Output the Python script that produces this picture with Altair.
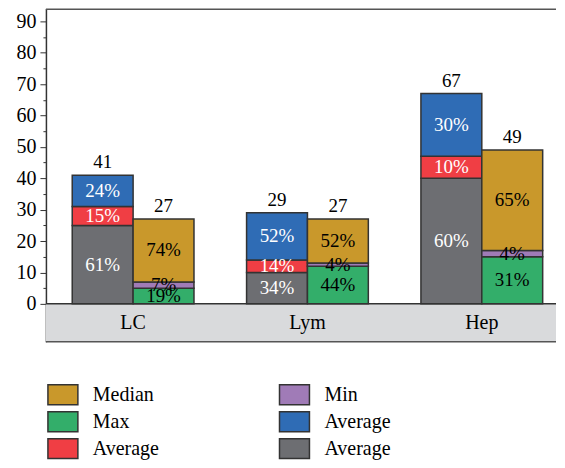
import altair as alt
import pandas as pd

categories = ["LC", "Lym", "Hep"]

# left bar (bottom -> top): gray Average, red Average, blue Average
gray_vals = [25, 10, 40]
red_vals = [6, 4, 7]
blue_vals = [10, 15, 20]
gray_pct = ["61%", "34%", "60%"]
red_pct = ["15%", "14%", "10%"]
blue_pct = ["24%", "52%", "30%"]

# right bar (bottom -> top): green Max, purple Min, gold Median
green_vals = [5, 12, 15]
purple_vals = [2, 1, 2]
gold_vals = [20, 14, 32]
green_pct = ["19%", "44%", "31%"]
purple_pct = ["7%", "4%", "4%"]
gold_pct = ["74%", "52%", "65%"]

# legend order (column-major fill): Median, Max, Average(red) | Min, Average(blue), Average(gray)
series_keys = ["Median", "Max", "AvgR", "Min", "AvgB", "AvgG"]
series_colors = ["#C9982B", "#33AE6A", "#F03E44", "#A07BB7", "#2F6CB5", "#6D6E72"]

rows = []
spec = [
    ("L", "AvgG", 0, gray_vals, gray_pct, "white"),
    ("L", "AvgR", 1, red_vals, red_pct, "white"),
    ("L", "AvgB", 2, blue_vals, blue_pct, "white"),
    ("R", "Max", 0, green_vals, green_pct, "black"),
    ("R", "Min", 1, purple_vals, purple_pct, "black"),
    ("R", "Median", 2, gold_vals, gold_pct, "black"),
]
for bar, key, order, vals, pcts, tcol in spec:
    for c, v, p in zip(categories, vals, pcts):
        rows.append(dict(cat=c, bar=bar, series=key, order=order, value=v, pct=p, tcol=tcol))
df = pd.DataFrame(rows)
cat_df = pd.DataFrame({"cat": categories})

FONT = "Liberation Serif"
W = 511
H = 334
Y_MIN = -12.09
Y_MAX = 94.13

xscale = alt.Scale(domain=categories, range=[0, 524], paddingInner=0, paddingOuter=0)
xenc = alt.X("cat:N", sort=categories, scale=xscale, axis=None)
xoff = alt.XOffset("bar:N", sort=["L", "R"],
                   scale=alt.Scale(paddingInner=0, paddingOuter=0.432))
yscale = alt.Scale(domain=[Y_MIN, Y_MAX], nice=False, zero=False)
yaxis = alt.Axis(title=None, values=list(range(0, 91, 5)), grid=False,
                 labelExpr="datum.value % 10 == 0 ? datum.label : ''",
                 labelOverlap=False,
                 tickSize={"condition": {"test": "datum.value % 10 == 0", "value": 6}, "value": 3},
                 tickColor="#333", domainColor="#333", domainWidth=1.5,
                 labelFont=FONT, labelFontSize=20, labelColor="black", labelPadding=4)

base = alt.Chart(df).transform_stack(
    stack="value", groupby=["cat", "bar"], as_=["y0", "y1"],
    sort=[alt.SortField("order", order="ascending")]
).transform_calculate(mid="(datum.y0 + datum.y1) / 2")

one = pd.DataFrame({"a": [0]})
band = alt.Chart(one).mark_rect(color="#D9DADC").encode(
    x=alt.value(0), x2=alt.value(W),
    y=alt.datum(Y_MIN, scale=yscale, axis=yaxis), y2=alt.datum(0)
)
zero_rule = alt.Chart(one).mark_rule(color="#333", strokeWidth=1.5).encode(
    x=alt.value(0), x2=alt.value(W), y=alt.datum(0, scale=yscale, axis=yaxis)
)
bottom_rule = alt.Chart(one).mark_rule(color="#555", strokeWidth=1.5).encode(
    x=alt.value(0), x2=alt.value(W), y=alt.value(H)
)
top_rule = alt.Chart(one).mark_rule(color="#555", strokeWidth=1.5).encode(
    x=alt.value(0), x2=alt.value(W), y=alt.value(0.75)
)

cat_labels = alt.Chart(cat_df).mark_text(font=FONT, fontSize=20, baseline="middle", color="black").encode(
    x=xenc, y=alt.datum(Y_MIN / 2, scale=yscale, axis=yaxis), text="cat:N"
)

bars = base.mark_bar(stroke="#333", strokeWidth=1.5).encode(
    x=xenc, xOffset=xoff,
    y=alt.Y("y0:Q", scale=yscale, axis=yaxis),
    y2="y1:Q",
    color=alt.Color("series:N", scale=alt.Scale(domain=series_keys, range=series_colors),
                    legend=alt.Legend(
                        orient="none", legendX=6, legendY=376, columns=2, title=None,
                        symbolType="M-1.5,-1L1.5,-1L1.5,1L-1.5,1Z", symbolSize=400,
                        symbolStrokeColor="#333", symbolStrokeWidth=1.5, symbolOpacity=1,
                        labelFont=FONT, labelFontSize=20, labelColor="black",
                        labelOffset=19, rowPadding=1, columnPadding=117,
                        labelExpr="indexof(datum.label, 'Avg') == 0 ? 'Average' : datum.label")),
)

pct_text = base.mark_text(font=FONT, fontSize=19, baseline="middle").encode(
    x=xenc, xOffset=xoff,
    y=alt.Y("mid:Q", scale=yscale, axis=yaxis),
    text="pct:N",
    color=alt.Color("tcol:N", scale=None),
)

totals = alt.Chart(df).transform_aggregate(
    total="sum(value)", groupby=["cat", "bar"]
).mark_text(font=FONT, fontSize=19, baseline="alphabetic", dy=-7, color="black").encode(
    x=xenc, xOffset=xoff,
    y=alt.Y("total:Q", scale=yscale, axis=yaxis),
    text="total:Q",
)

chart = alt.layer(band, bars, pct_text, totals, cat_labels, zero_rule, bottom_rule, top_rule).properties(
    width=W, height=H, padding={"left": 8, "top": 0, "right": 0, "bottom": 0}
).configure_view(stroke=None).resolve_scale(color="independent")

chart.save("out.html", embed_options={"renderer": "svg", "actions": False})
